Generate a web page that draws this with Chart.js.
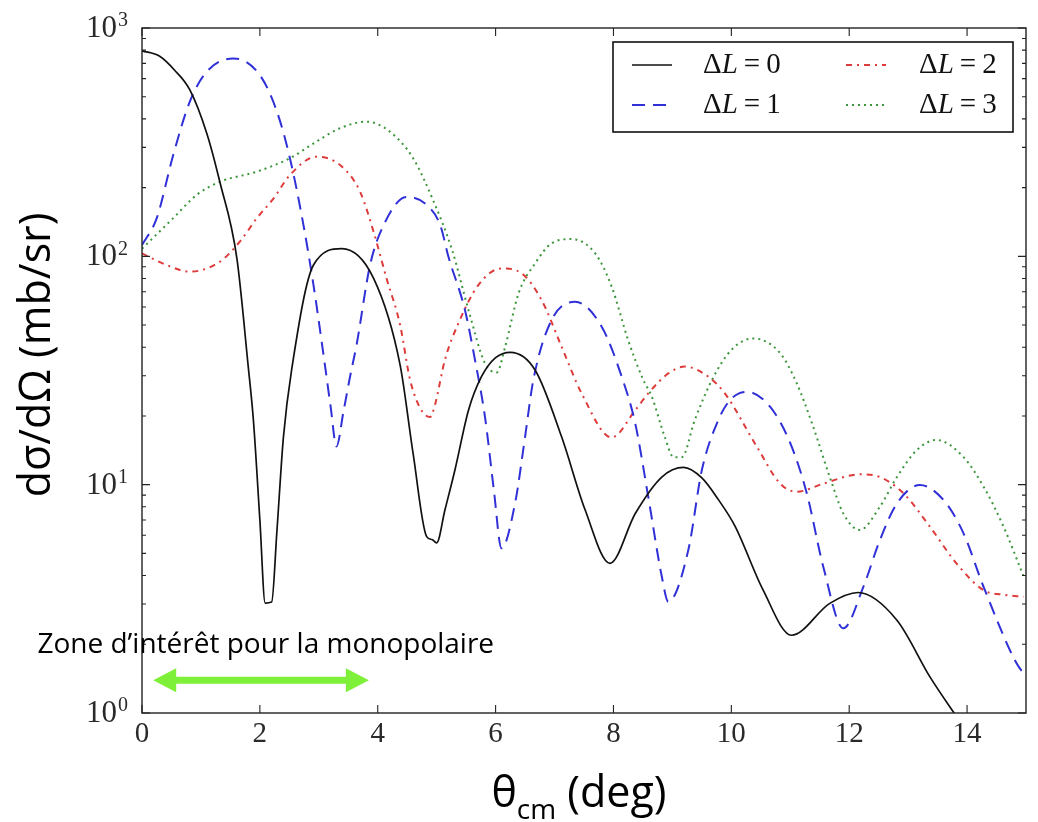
<!DOCTYPE html>
<html>
<head>
<meta charset="utf-8">
<script src="https://cdn.jsdelivr.net/npm/chart.js@4.4.1/dist/chart.umd.min.js"></script>
<style>
html,body{margin:0;padding:0;background:#fff;}
#wrap{width:1038px;height:822px;position:relative;}
</style>
</head>
<body>
<div id="wrap"><canvas id="c" width="1038" height="822"></canvas></div>
<script>
// ---------- data ----------
const seriesLabels = ['ΔL=0', 'ΔL=1', 'ΔL=2', 'ΔL=3'];

const dl0Theta = [0, 0.3, 0.55, 0.81, 1.1, 1.32, 1.61, 1.8, 1.89, 2.0, 2.09, 2.2, 2.29, 2.4, 2.54, 2.91, 3.39, 3.93, 4.38, 4.6, 4.83, 4.92, 5.0, 5.14, 5.31, 5.54, 5.76, 6.0, 6.25, 6.67, 7.12, 7.52, 7.94, 8.37, 8.82, 9.19, 9.5, 9.78, 10.06, 10.54, 11.02, 11.67, 12.15, 12.81, 13.37, 13.78, 14.2];
const dl0Sigma = [795, 752, 655, 537, 345, 212, 98, 33.4, 19.2, 7.0, 3.03, 3.06, 6.3, 16.2, 32, 91.6, 108, 80, 33.4, 13.7, 5.92, 5.75, 5.56, 7.74, 11.6, 21.2, 29.7, 36, 38, 31.8, 16.2, 7.74, 4.52, 7.48, 10.8, 11.9, 10.7, 8.6, 6.6, 3.45, 2.19, 3.02, 3.37, 2.55, 1.44, 1.0, 0.7];

const dl1Theta = [0, 0.25, 0.53, 0.81, 1.1, 1.55, 2.0, 2.29, 2.51, 2.74, 2.91, 3.1, 3.2, 3.3, 3.42, 3.53, 3.64, 3.87, 4.1, 4.49, 4.83, 5.06, 5.2, 5.48, 5.65, 5.82, 5.97, 6.1, 6.33, 6.5, 6.64, 6.95, 7.35, 7.8, 8.14, 8.37, 8.59, 8.82, 8.93, 9.27, 9.5, 9.78, 9.98, 10.26, 10.66, 11.0, 11.28, 11.56, 11.9, 12.24, 12.52, 12.81, 13.2, 13.6, 13.94, 14.28, 14.84, 15];
const dl1Sigma = [112, 147, 278, 475, 644, 736, 622, 430, 269, 137, 74.8, 34, 22, 14.7, 21, 29.7, 40.8, 91.6, 137, 182, 168, 137, 99.6, 58.2, 35.2, 19.8, 9.5, 5.26, 8.28, 16.2, 28.7, 52.6, 63.2, 49.2, 29.7, 18.5, 8.85, 3.96, 3.07, 5.17, 11.6, 19.2, 23.5, 25.5, 21.9, 15.2, 9.17, 4.37, 2.35, 3.57, 5.71, 8.28, 9.96, 8.57, 6.12, 3.57, 1.65, 1.45];

const dl2Theta = [0, 0.4, 0.81, 1.32, 1.66, 1.95, 2.23, 2.51, 2.96, 3.36, 3.7, 3.93, 4.15, 4.38, 4.55, 4.75, 4.89, 4.97, 5.14, 5.37, 5.71, 6.1, 6.44, 6.78, 7.12, 7.46, 7.97, 8.37, 8.59, 8.93, 9.21, 9.61, 9.89, 10.43, 10.83, 11.11, 11.56, 12.18, 12.52, 12.92, 13.37, 13.82, 14.28, 14.6, 14.96];
const dl2Sigma = [103, 92, 85.7, 94.6, 116, 147, 179, 227, 273, 251, 192, 128, 80, 50, 28.7, 21, 19.8, 22.3, 35.2, 51, 75, 88.5, 84.3, 64.4, 40.2, 25.1, 16.1, 21.2, 25.1, 30.7, 32.9, 29.7, 25.1, 14.7, 10.1, 9.31, 10.1, 11.1, 10.8, 9.17, 6.54, 4.52, 3.45, 3.3, 3.23];

const dl3Theta = [0, 0.53, 0.93, 1.32, 1.95, 2.51, 2.96, 3.36, 3.81, 4.21, 4.6, 4.94, 5.26, 5.54, 5.82, 6.02, 6.16, 6.39, 6.67, 6.95, 7.29, 7.69, 7.97, 8.25, 8.5, 8.65, 8.87, 9.02, 9.16, 9.38, 9.67, 10.0, 10.37, 10.83, 11.11, 11.39, 11.67, 11.9, 12.18, 12.52, 12.81, 13.15, 13.48, 13.94, 14.28, 14.62, 14.96];
const dl3Sigma = [108, 147, 186, 212, 235, 269, 318, 364, 389, 351, 269, 176, 107, 58.2, 34, 31, 40, 68.9, 93.1, 114, 119, 103, 73.6, 42.9, 29, 24.3, 16.2, 13.2, 13.2, 19.2, 28.7, 38.9, 43.7, 37.6, 27.8, 17.9, 10.8, 7.48, 6.33, 8.0, 10.8, 14.2, 15.7, 13.2, 9.8, 6.54, 3.96];

const xTickValues = [0, 2, 4, 6, 8, 10, 12, 14];
const xTickLabels = ['0', '2', '4', '6', '8', '10', '12', '14'];
const yTickValues = [1, 10, 100, 1000];
const yTickBase = '10';
const yTickExponents = ['0', '1', '2', '3'];
const yMinorValues = [2, 3, 4, 5, 6, 7, 8, 9, 20, 30, 40, 50, 60, 70, 80, 90, 200, 300, 400, 500, 600, 700, 800, 900];

const xTitleMain = 'θ';
const xTitleSub = 'cm';
const xTitleRest = ' (deg)';
const yTitle = 'dσ/dΩ (mb/sr)';

const zoneText = 'Zone d’intérêt pour la monopolaire';
const zoneFrom = 0.19, zoneTo = 3.85, zoneArrowY = 1.39;
const zoneTextX = 2.1, zoneTextY = 1.98;

// ---------- styles ----------
const seriesStyles = [
  {color: '#111111', width: 1.7, dash: []},
  {color: '#3030d8', width: 2, dash: [13, 8]},
  {color: '#de3b3b', width: 2, dash: [6, 5, 2, 5]},
  {color: '#3c963c', width: 2, dash: [2, 4]}
];
const serifFont = '"Liberation Serif", "DejaVu Serif", serif';
const sansFont = '"Open Sans", "Noto Sans", sans-serif';
const tickColor = '#2a2a2a';

function toPoints(xs, ys) { return xs.map((x, i) => ({x: x, y: ys[i]})); }
const seriesData = [
  toPoints(dl0Theta, dl0Sigma),
  toPoints(dl1Theta, dl1Sigma),
  toPoints(dl2Theta, dl2Sigma),
  toPoints(dl3Theta, dl3Sigma)
];

const decorPlugin = {
  id: 'decor',
  afterDatasetsDraw(chart) {
    const {ctx, chartArea: a, scales: {x, y}} = chart;
    ctx.save();
    ctx.strokeStyle = '#222';
    ctx.lineWidth = 1.4;
    ctx.strokeRect(a.left, a.top, a.right - a.left, a.bottom - a.top);
    ctx.beginPath();
    ctx.lineWidth = 1.1;
    xTickValues.forEach(v => {
      const px = x.getPixelForValue(v);
      ctx.moveTo(px, a.bottom); ctx.lineTo(px, a.bottom - 8);
      ctx.moveTo(px, a.top); ctx.lineTo(px, a.top + 8);
    });
    yTickValues.forEach(v => {
      const py = y.getPixelForValue(v);
      ctx.moveTo(a.left, py); ctx.lineTo(a.left + 8, py);
      ctx.moveTo(a.right, py); ctx.lineTo(a.right - 8, py);
    });
    yMinorValues.forEach(v => {
      const py = y.getPixelForValue(v);
      ctx.moveTo(a.left, py); ctx.lineTo(a.left + 4, py);
      ctx.moveTo(a.right, py); ctx.lineTo(a.right - 4, py);
    });
    ctx.stroke();

    // y tick labels: 10 with raised exponent
    ctx.fillStyle = tickColor;
    yTickValues.forEach((v, i) => {
      const py = y.getPixelForValue(v);
      const right = a.left - 25;
      ctx.textAlign = 'right';
      ctx.textBaseline = 'middle';
      ctx.font = '31px ' + serifFont;
      ctx.fillText(yTickBase, right, py + 1);
      ctx.textAlign = 'left';
      ctx.textBaseline = 'top';
      ctx.font = '20px ' + serifFont;
      ctx.fillText(yTickExponents[i], right + 1, py - 17);
    });
    ctx.restore();
  },
  afterDraw(chart) {
    const {ctx, chartArea: a, scales: {x, y}} = chart;
    ctx.save();
    // ----- legend -----
    const bw = 400, bh = 90;
    const bl = a.right - 13 - bw, bt = a.top + 14;
    ctx.fillStyle = '#fff';
    ctx.fillRect(bl, bt, bw, bh);
    ctx.strokeStyle = '#111';
    ctx.lineWidth = 1.6;
    ctx.strokeRect(bl, bt, bw, bh);
    const slots = [
      {ds: 0, col: 0, row: 0}, {ds: 2, col: 1, row: 0},
      {ds: 1, col: 0, row: 1}, {ds: 3, col: 1, row: 1}
    ];
    const colLine = [19, 233], colText = [90, 306];
    const rowY = [23, 63];
    slots.forEach(s => {
      const st = seriesStyles[s.ds];
      const yy = bt + rowY[s.row];
      ctx.beginPath();
      ctx.strokeStyle = st.color;
      ctx.lineWidth = st.width;
      ctx.setLineDash(st.dash);
      ctx.moveTo(bl + colLine[s.col], yy);
      ctx.lineTo(bl + colLine[s.col] + 40, yy);
      ctx.stroke();
      ctx.setLineDash([]);
      const lab = chart.data.datasets[s.ds].label;
      const digit = lab.split('=')[1];
      let tx = bl + colText[s.col];
      ctx.fillStyle = '#111';
      ctx.textBaseline = 'middle';
      ctx.textAlign = 'left';
      ctx.font = '29px ' + serifFont;
      ctx.fillText('Δ', tx, yy); tx += ctx.measureText('Δ').width;
      ctx.font = 'italic 29px ' + serifFont;
      ctx.fillText('L', tx, yy); tx += ctx.measureText('L').width + 6;
      ctx.font = '29px ' + serifFont;
      ctx.fillText('=', tx, yy); tx += ctx.measureText('=').width + 6;
      ctx.fillText(digit, tx, yy);
    });

    // ----- axis titles -----
    ctx.fillStyle = '#000';
    ctx.textBaseline = 'alphabetic';
    ctx.textAlign = 'left';
    ctx.font = '43px ' + sansFont;
    const wMain = ctx.measureText(xTitleMain).width;
    const wRest = ctx.measureText(xTitleRest).width;
    ctx.font = '28px ' + sansFont;
    const wSub = ctx.measureText(xTitleSub).width;
    const total = wMain + wSub + wRest;
    let tx = (a.left + a.right) / 2 - 5 - total / 2;
    const base = a.bottom + 94;
    ctx.font = '43px ' + sansFont;
    ctx.fillText(xTitleMain, tx, base); tx += wMain;
    ctx.font = '28px ' + sansFont;
    ctx.fillText(xTitleSub, tx, base + 12); tx += wSub;
    ctx.font = '43px ' + sansFont;
    ctx.fillText(xTitleRest, tx, base);

    ctx.save();
    ctx.translate(a.left - 92, a.top + 327);
    ctx.rotate(-Math.PI / 2);
    ctx.textAlign = 'center';
    ctx.font = '43px ' + sansFont;
    ctx.fillText(yTitle, 0, 0);
    ctx.restore();

    // ----- zone annotation -----
    const x1 = x.getPixelForValue(zoneFrom), x2 = x.getPixelForValue(zoneTo);
    const ya = y.getPixelForValue(zoneArrowY);
    const head = 23, half = 12, shaft = 3.5;
    ctx.fillStyle = '#7ff03a';
    ctx.beginPath();
    ctx.moveTo(x1, ya);
    ctx.lineTo(x1 + head, ya - half);
    ctx.lineTo(x1 + head, ya - shaft);
    ctx.lineTo(x2 - head, ya - shaft);
    ctx.lineTo(x2 - head, ya - half);
    ctx.lineTo(x2, ya);
    ctx.lineTo(x2 - head, ya + half);
    ctx.lineTo(x2 - head, ya + shaft);
    ctx.lineTo(x1 + head, ya + shaft);
    ctx.lineTo(x1 + head, ya + half);
    ctx.closePath();
    ctx.fill();

    ctx.fillStyle = '#000';
    ctx.font = '28px ' + sansFont;
    ctx.textAlign = 'center';
    ctx.textBaseline = 'middle';
    ctx.fillText(zoneText, x.getPixelForValue(zoneTextX), y.getPixelForValue(zoneTextY));
    ctx.restore();
  }
};

new Chart(document.getElementById('c'), {
  type: 'line',
  data: {
    datasets: seriesLabels.map((lab, i) => ({
      label: lab,
      data: seriesData[i],
      borderColor: seriesStyles[i].color,
      borderWidth: seriesStyles[i].width,
      borderDash: seriesStyles[i].dash,
      pointRadius: 0,
      pointHoverRadius: 0,
      fill: false,
      cubicInterpolationMode: 'monotone'
    }))
  },
  options: {
    responsive: false,
    animation: false,
    events: [],
    layout: {padding: {left: 0, right: 12, top: 28, bottom: 0}},
    plugins: {legend: {display: false}, tooltip: {enabled: false}},
    scales: {
      x: {
        type: 'linear', min: 0, max: 15,
        grid: {display: false, drawTicks: false},
        border: {display: false},
        afterBuildTicks: s => { s.ticks = xTickValues.map(v => ({value: v})); },
        afterFit: s => { s.height = 109; },
        ticks: {
          padding: 4,
          maxRotation: 0,
          color: tickColor,
          font: {family: serifFont, size: 29},
          callback: v => xTickLabels[xTickValues.indexOf(v)] ?? ''
        }
      },
      y: {
        type: 'logarithmic', min: 1, max: 1000,
        grid: {display: false, drawTicks: false},
        border: {display: false},
        afterBuildTicks: s => { s.ticks = yTickValues.map(v => ({value: v})); },
        afterFit: s => { s.width = 142; },
        ticks: {display: false}
      }
    }
  },
  plugins: [decorPlugin]
});
</script>
</body>
</html>
